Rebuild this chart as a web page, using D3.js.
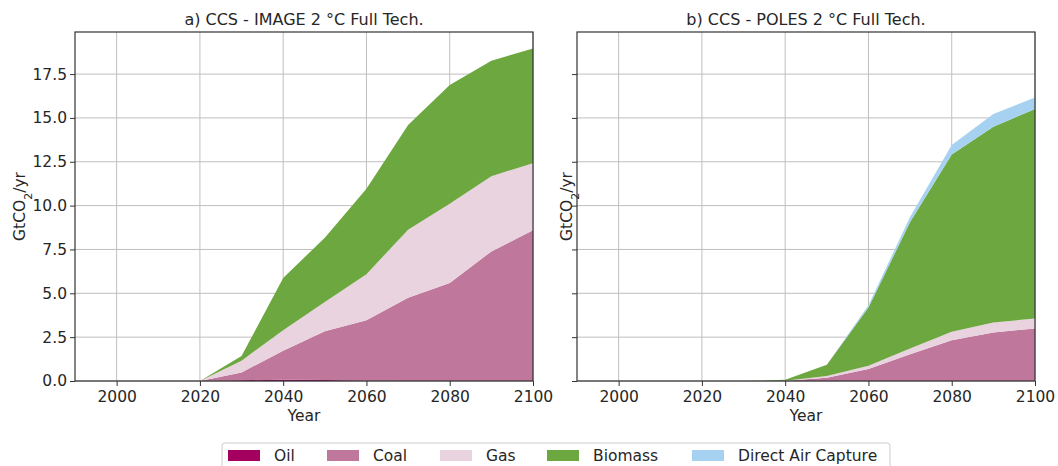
<!DOCTYPE html>
<html>
<head>
<meta charset="utf-8">
<script src="https://cdn.jsdelivr.net/npm/d3@7"></script>
<style>
  body { margin: 0; background: #fff; }
  text { font-family: "DejaVu Sans", sans-serif; fill: #262626; }
</style>
</head>
<body>
<div id="wrapper"></div>
<script>
const years = [2020, 2030, 2040, 2050, 2060, 2070, 2080, 2090, 2100];
const seriesNames = ["Oil", "Coal", "Gas", "Biomass", "Direct Air Capture"];
const seriesColors = ["#a3005f", "#bf779c", "#e8d3df", "#6ca83f", "#a6d1f0"];

// a) IMAGE 2 °C Full Tech.
const imageOil     = [0, 0.04, 0.07, 0.06, 0.01, 0, 0, 0, 0];
const imageCoal    = [0, 0.45, 1.66, 2.78, 3.46, 4.74, 5.59, 7.39, 8.59];
const imageGas     = [0, 0.67, 1.17, 1.67, 2.62, 3.89, 4.51, 4.29, 3.83];
const imageBiomass = [0, 0.26, 2.98, 3.66, 4.87, 5.97, 6.78, 6.58, 6.54];
const imageDAC     = [0, 0, 0, 0, 0, 0, 0, 0, 0];

// b) POLES 2 °C Full Tech.
const polesOil     = [0, 0, 0, 0, 0, 0, 0, 0, 0];
const polesCoal    = [0, 0, 0.01, 0.19, 0.68, 1.52, 2.33, 2.77, 3.0];
const polesGas     = [0, 0, 0.01, 0.09, 0.19, 0.34, 0.48, 0.57, 0.56];
const polesBiomass = [0, 0, 0.05, 0.65, 3.32, 7.2, 10.1, 11.16, 11.95];
const polesDAC     = [0, 0, 0, 0, 0.13, 0.29, 0.55, 0.73, 0.66];

const xTicks = [2000, 2020, 2040, 2060, 2080, 2100];
const yTicks = [0, 2.5, 5, 7.5, 10, 12.5, 15, 17.5];

const width = 1058, height = 466;
const plotTop = 32, plotBottom = 381;

const svg = d3.select("#wrapper").append("svg")
  .attr("width", width)
  .attr("height", height);

const yScale = d3.scaleLinear().domain([0, 19.9]).range([plotBottom, plotTop]);

function toRows(cols) {
  return years.map((yr, i) => {
    const row = { year: yr };
    seriesNames.forEach((n, j) => row[n] = cols[j][i]);
    return row;
  });
}

function drawPanel(x0, x1, title, cols, showYLabels, ylabelX) {
  const xScale = d3.scaleLinear().domain([1990, 2100]).range([x0, x1]);
  const g = svg.append("g");

  // grid
  g.append("g").selectAll("line").data(xTicks).join("line")
    .attr("x1", d => xScale(d)).attr("x2", d => xScale(d))
    .attr("y1", plotTop).attr("y2", plotBottom)
    .attr("stroke", "#bfbfbf").attr("stroke-width", 1);
  g.append("g").selectAll("line").data(yTicks).join("line")
    .attr("x1", x0).attr("x2", x1)
    .attr("y1", d => yScale(d)).attr("y2", d => yScale(d))
    .attr("stroke", "#bfbfbf").attr("stroke-width", 1);

  // stacked areas
  const stack = d3.stack().keys(seriesNames);
  const layers = stack(toRows(cols));
  const area = d3.area()
    .x(d => xScale(d.data.year))
    .y0(d => yScale(d[0]))
    .y1(d => yScale(d[1]));
  g.append("g").selectAll("path").data(layers).join("path")
    .attr("d", area)
    .attr("fill", (d, i) => seriesColors[i]);

  // axes
  const xAxis = d3.axisBottom(xScale).tickValues(xTicks).tickFormat(d3.format("d")).tickSize(5).tickPadding(5);
  const yAxis = d3.axisLeft(yScale).tickValues(yTicks).tickSize(5).tickPadding(3)
    .tickFormat(showYLabels ? d3.format(".1f") : "");
  const ax = g.append("g").attr("transform", `translate(0,${plotBottom})`).call(xAxis);
  const ay = g.append("g").attr("transform", `translate(${x0},0)`).call(yAxis);
  [ax, ay].forEach(a => {
    a.select(".domain").remove();
    a.selectAll(".tick line").attr("stroke", "#333").attr("stroke-width", 1);
    a.selectAll(".tick text").style("font-size", "15.5px").attr("fill", "#262626");
  });

  // frame
  g.append("rect")
    .attr("x", x0).attr("y", plotTop)
    .attr("width", x1 - x0).attr("height", plotBottom - plotTop)
    .attr("fill", "none").attr("stroke", "#333").attr("stroke-width", 1.2);

  g.append("text")
    .attr("x", (x0 + x1) / 2).attr("y", 25)
    .attr("text-anchor", "middle").style("font-size", "16px")
    .text(title);

  g.append("text")
    .attr("x", (x0 + x1) / 2).attr("y", 421)
    .attr("text-anchor", "middle").style("font-size", "15.5px")
    .text("Year");

  const yl = g.append("text")
    .attr("transform", `translate(${ylabelX},${(plotTop + plotBottom) / 2}) rotate(-90)`)
    .attr("text-anchor", "middle").style("font-size", "15.5px");
  yl.append("tspan").text("GtCO");
  yl.append("tspan").attr("baseline-shift", "sub").style("font-size", "11px").text("2");
  yl.append("tspan").text("/yr");
}

drawPanel(75, 533, "a) CCS - IMAGE 2 °C Full Tech.",
  [imageOil, imageCoal, imageGas, imageBiomass, imageDAC], true, 25);
drawPanel(577, 1035, "b) CCS - POLES 2 °C Full Tech.",
  [polesOil, polesCoal, polesGas, polesBiomass, polesDAC], false, 572);

// legend
const legend = svg.append("g");
legend.append("rect")
  .attr("x", 222).attr("y", 443).attr("width", 668).attr("height", 30)
  .attr("rx", 3).attr("fill", "#fff").attr("stroke", "#cccccc");
const legendX = [228, 327, 440, 547, 692];
seriesNames.forEach((n, i) => {
  legend.append("rect")
    .attr("x", legendX[i]).attr("y", 450).attr("width", 32).attr("height", 11)
    .attr("fill", seriesColors[i]);
  legend.append("text")
    .attr("x", legendX[i] + 46).attr("y", 461)
    .style("font-size", "15.5px")
    .text(n);
});
</script>
</body>
</html>
